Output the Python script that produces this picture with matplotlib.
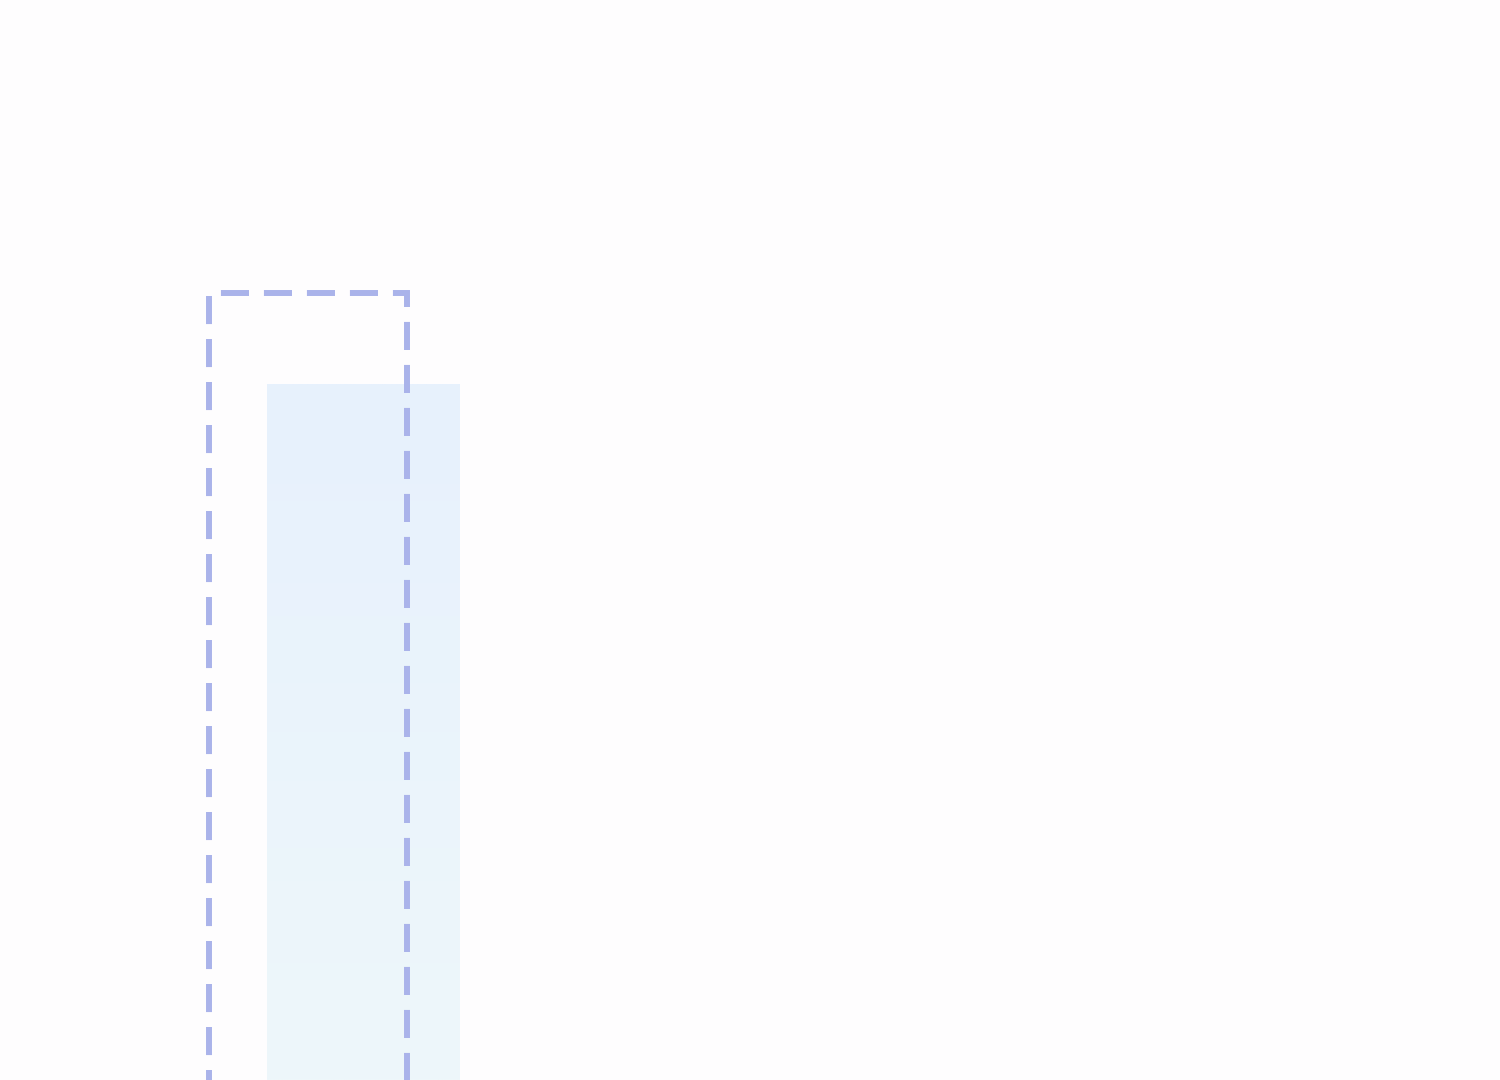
import numpy as np
import matplotlib
matplotlib.use('Agg')
import matplotlib.pyplot as plt

# 数据：一个类别，目标值（虚线框）和实际值（浅蓝填充）
categories = ['A']
target_values = [100]
actual_values = [95]

# 画布
fig = plt.figure(figsize=(15, 10.8), dpi=100)
ax = fig.add_axes([0, 0, 1, 1])
fig.patch.set_facecolor('#fefdfe')
ax.set_facecolor('#fefdfe')

x = np.arange(len(categories))
offset = 0.28

# 实际值：浅蓝渐变填充
bars = ax.bar(x + offset, actual_values, width=1.93, color='#eaf3fc',
              edgecolor='none', zorder=1)
for b in bars:
    x0, w, h = b.get_x(), b.get_width(), b.get_height()
    grad = np.linspace(0, 1, 256).reshape(-1, 1)
    cmap = matplotlib.colors.LinearSegmentedColormap.from_list(
        'g', ['#eef7fa', '#e7f1fd'])
    im = ax.imshow(grad, cmap=cmap, aspect='auto', origin='lower',
                   extent=[x0, x0 + w, 56.8, h], zorder=1.5)
    im.set_clip_path(b)

# 目标值：虚线框
ax.bar(x - offset, target_values, width=1.98, fill=False,
       edgecolor='#aab3ea', linewidth=4.3, linestyle=(0, (4.7, 2.5)),
       zorder=2)

ax.set_xlim(-3.355, 11.645)
ax.set_ylim(56.8, 116.1)
ax.axis('off')

plt.savefig('out.png', dpi=100, facecolor=fig.get_facecolor())
